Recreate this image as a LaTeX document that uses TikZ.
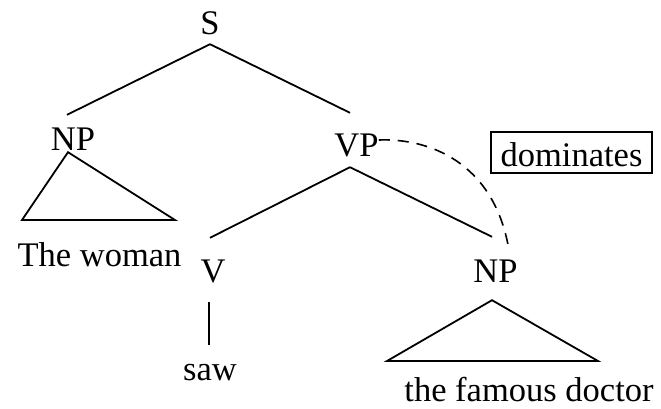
\documentclass[tikz,border=0pt]{standalone}
\usepackage{fontspec}
\setmainfont{Liberation Serif}
\begin{document}
\begin{tikzpicture}[x=1pt,y=-1pt,
  every node/.style={font=\fontsize{34.5}{40}\selectfont},
  cat/.style={inner sep=0pt, anchor=base, text height=23pt, text depth=0pt},
  leaf/.style={inner sep=0pt, anchor=base},
  branch/.style={line width=1.8pt, line join=miter},
  thinbranch/.style={line width=1.1pt},
  link/.style={line width=1.6pt, dash pattern=on 11pt off 8pt},
  tag/.style={draw, line width=1.8pt, anchor=base, inner xsep=9.5pt, inner ysep=0pt,
              text height=34pt, text depth=7pt}]
\useasboundingbox (0,0) rectangle (661,409);

% category labels and leaves
\node[cat] (S) at (210,35) {S};
\node[cat] (NPa) at (73,150) {NP};
\node[cat] (VP) at (356.5,157) {VP};
\node[leaf] (woman) at (99.5,266) {The woman};
\node[cat] (V) at (213,282) {V};
\node[cat] (NPb) at (495.5,282) {NP};
\node[leaf, text height=16pt] (saw) at (210,380) {saw};
\node[leaf] (doctor) at (529,401) {the famous doctor};
\node[tag] (dom) at (571.5,166) {dominates};

% branches
\draw[branch] ([yshift=-9pt]S.south) -- ([xshift=-6pt,yshift=12pt]NPa.north);
\draw[branch] ([yshift=-9pt]S.south) -- ([xshift=-6.5pt,yshift=21pt]VP.north);
\draw[branch] ([xshift=-6.5pt,yshift=-10pt]VP.south) -- ([xshift=-3pt,yshift=21pt]V.north);
\draw[branch] ([xshift=-6.5pt,yshift=-10pt]VP.south) -- ([xshift=-3.5pt,yshift=22pt]NPb.north);
\draw[thinbranch] ([xshift=-4pt,yshift=-20pt]V.south) -- ([xshift=-1pt,yshift=19pt]saw.north);

% roof triangles over the phrases
\coordinate (npaL) at (22,220);
\coordinate (npaR) at (175,220);
\draw[branch] (npaL) -- ([xshift=-5pt,yshift=-2pt]NPa.south) -- (npaR) -- cycle;
\coordinate (npbL) at (387,361);
\coordinate (npbR) at (598,361);
\draw[branch] (npbL) -- ([xshift=-3.5pt,yshift=-18pt]NPb.south) -- (npbR) -- cycle;

% dominance relation
\draw[link] ([yshift=5.5pt]VP.east) .. controls (430,138) and (492,163) .. ([xshift=12.5pt,yshift=14pt]NPb.north);
\end{tikzpicture}
\end{document}
